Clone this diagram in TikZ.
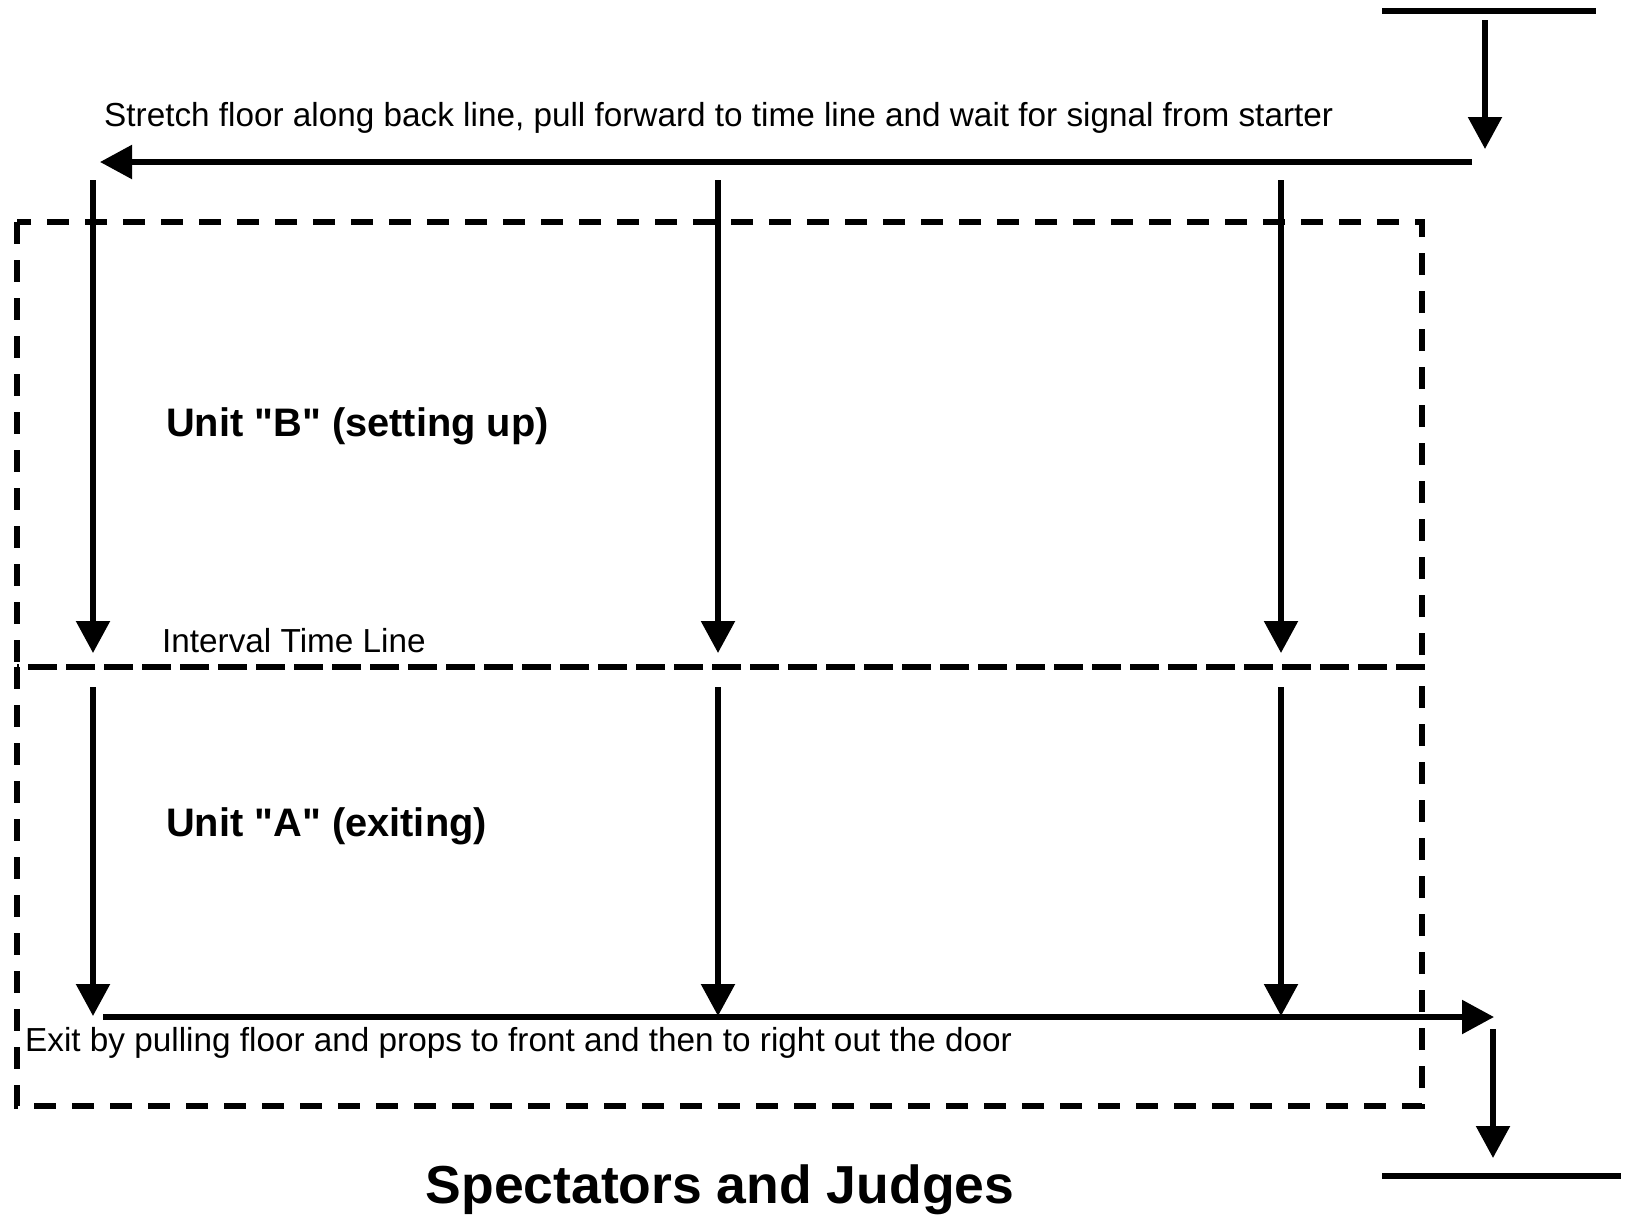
\documentclass[tikz,border=0pt]{standalone}
\usepackage{fontspec}
\setmainfont{Liberation Sans}[Ligatures=TeXOff]
\usetikzlibrary{arrows.meta}
\begin{document}
\begin{tikzpicture}[x=1pt,y=-1pt,
  flow/.style={line width=5.5pt,-{Triangle[width=33pt,length=32pt]}},
  bar/.style={line width=6pt},
  zone/.style={line width=6pt,dash pattern=on 22pt off 16pt},
  lbl/.style={inner sep=0pt,anchor=west,font=\fontsize{33.3}{38}\selectfont},
  unitlbl/.style={inner sep=0pt,anchor=west,font=\fontsize{39.8}{46}\selectfont\bfseries},
  title/.style={inner sep=0pt,font=\fontsize{53.5}{60}\selectfont\bfseries}]
\useasboundingbox (0,0) rectangle (1628,1216);
% entry bar and arrows
\coordinate (tbL) at (1382,11); \coordinate (tbR) at (1596,11);
\draw[bar] (tbL) -- (tbR);
\coordinate (inS) at (1485,20); \coordinate (inE) at (1485,149);
\draw[flow] (inS) -- (inE);
\coordinate (backS) at (1472,162); \coordinate (backE) at (100,162);
\draw[flow] (backS) -- (backE);
\node[lbl] (stretch) at (104,118) {Stretch floor along back line, pull forward to time line and wait for signal from starter};
% zones
\coordinate (zTL) at (17,222); \coordinate (zML) at (17,667);
\coordinate (zBR) at (1422,1106); \coordinate (zMR) at (1422,667);
\draw[zone] (zTL) rectangle (zMR);
\draw[zone] (zML) rectangle (zBR);
% vertical arrows
\foreach \n/\x in {a/93,b/718,c/1281}{
  \coordinate (u\n S) at (\x,180); \coordinate (u\n E) at (\x,653);
  \draw[flow] (u\n S) -- (u\n E);
  \coordinate (l\n S) at (\x,687); \coordinate (l\n E) at (\x,1016);
  \draw[flow] (l\n S) -- (l\n E);
}
\node[lbl] (interval) at (162,641) {Interval Time Line};
\node[unitlbl] (unitB) at (166,426) {Unit "B" (setting up)};
\node[unitlbl] (unitA) at (166,826) {Unit "A" (exiting)};
% exit
\coordinate (exS) at (103,1017); \coordinate (exE) at (1494,1017);
\draw[flow] (exS) -- (exE);
\node[lbl] (exit) at (25,1043) {Exit by pulling floor and props to front and then to right out the door};
\coordinate (outS) at (1493,1029); \coordinate (outE) at (1493,1158);
\draw[flow] (outS) -- (outE);
\coordinate (fbL) at (1382,1176); \coordinate (fbR) at (1621,1176);
\draw[bar] (fbL) -- (fbR);
\node[title] (spect) at (720,1190) {Spectators and Judges};
\end{tikzpicture}
\end{document}
